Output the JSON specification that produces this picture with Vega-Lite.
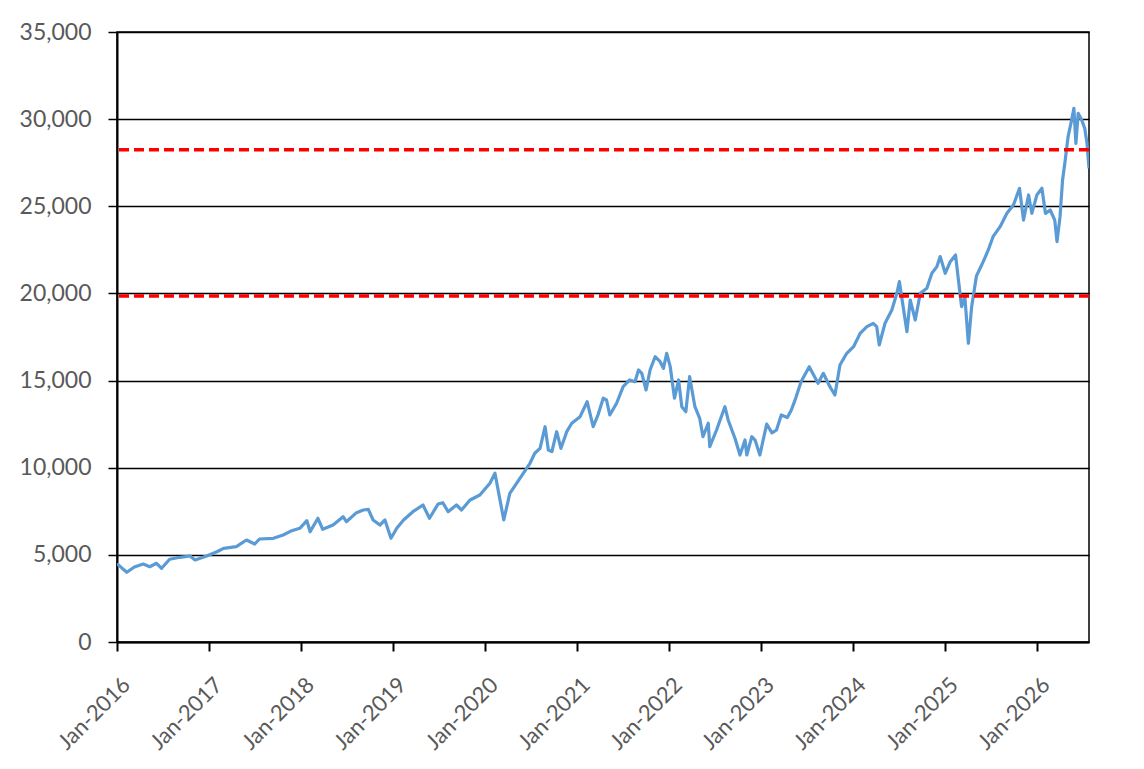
{
  "$schema": "https://vega.github.io/schema/vega-lite/v6.json",
  "width": 972,
  "height": 610,
  "autosize": {"type": "none"},
  "padding": {"left": 117, "top": 32, "right": 55, "bottom": 127},
  "background": "white",
  "config": {
    "view": {"stroke": "#000000", "strokeWidth": 1.5},
    "font": "Lato"
  },
  "layer": [
    {
      "data": {
        "values": [
          {"date": "2016-01-01", "value": 4500},
          {"date": "2016-01-20", "value": 4250},
          {"date": "2016-02-09", "value": 4000},
          {"date": "2016-03-10", "value": 4300},
          {"date": "2016-04-14", "value": 4475},
          {"date": "2016-05-10", "value": 4320},
          {"date": "2016-06-06", "value": 4516},
          {"date": "2016-06-26", "value": 4229},
          {"date": "2016-07-28", "value": 4745},
          {"date": "2016-09-07", "value": 4860},
          {"date": "2016-10-17", "value": 4935},
          {"date": "2016-11-06", "value": 4705},
          {"date": "2016-12-22", "value": 4935},
          {"date": "2017-02-01", "value": 5180},
          {"date": "2017-02-27", "value": 5376},
          {"date": "2017-04-19", "value": 5470},
          {"date": "2017-05-29", "value": 5853},
          {"date": "2017-07-01", "value": 5623},
          {"date": "2017-07-20", "value": 5910},
          {"date": "2017-09-13", "value": 5950},
          {"date": "2017-10-22", "value": 6140},
          {"date": "2017-11-25", "value": 6387},
          {"date": "2017-12-27", "value": 6524},
          {"date": "2018-01-24", "value": 6960},
          {"date": "2018-02-06", "value": 6330},
          {"date": "2018-03-09", "value": 7098},
          {"date": "2018-03-28", "value": 6467},
          {"date": "2018-05-08", "value": 6713},
          {"date": "2018-06-17", "value": 7190},
          {"date": "2018-06-30", "value": 6903},
          {"date": "2018-08-09", "value": 7420},
          {"date": "2018-09-05", "value": 7574},
          {"date": "2018-09-25", "value": 7614},
          {"date": "2018-10-14", "value": 7000},
          {"date": "2018-11-10", "value": 6713},
          {"date": "2018-11-30", "value": 7000},
          {"date": "2018-12-24", "value": 5950},
          {"date": "2019-01-16", "value": 6524},
          {"date": "2019-02-12", "value": 7000},
          {"date": "2019-03-21", "value": 7477},
          {"date": "2019-04-30", "value": 7861},
          {"date": "2019-05-26", "value": 7098},
          {"date": "2019-06-29", "value": 7918},
          {"date": "2019-07-18", "value": 7993},
          {"date": "2019-08-08", "value": 7477},
          {"date": "2019-09-10", "value": 7861},
          {"date": "2019-09-30", "value": 7574},
          {"date": "2019-11-03", "value": 8148},
          {"date": "2019-12-12", "value": 8435},
          {"date": "2020-01-21", "value": 9106},
          {"date": "2020-02-10", "value": 9680},
          {"date": "2020-03-01", "value": 8148},
          {"date": "2020-03-16", "value": 7000},
          {"date": "2020-04-09", "value": 8530},
          {"date": "2020-05-19", "value": 9393},
          {"date": "2020-06-28", "value": 10254},
          {"date": "2020-07-17", "value": 10828},
          {"date": "2020-08-07", "value": 11114},
          {"date": "2020-08-27", "value": 12354},
          {"date": "2020-09-09", "value": 11017},
          {"date": "2020-09-23", "value": 10920},
          {"date": "2020-10-12", "value": 12067},
          {"date": "2020-10-29", "value": 11114},
          {"date": "2020-11-21", "value": 12067},
          {"date": "2020-12-11", "value": 12550},
          {"date": "2021-01-13", "value": 12928},
          {"date": "2021-02-10", "value": 13788},
          {"date": "2021-03-06", "value": 12354},
          {"date": "2021-03-25", "value": 13025},
          {"date": "2021-04-15", "value": 13985},
          {"date": "2021-04-28", "value": 13886},
          {"date": "2021-05-11", "value": 13025},
          {"date": "2021-06-07", "value": 13697},
          {"date": "2021-07-03", "value": 14650},
          {"date": "2021-07-29", "value": 15034},
          {"date": "2021-08-19", "value": 14936},
          {"date": "2021-09-02", "value": 15607},
          {"date": "2021-09-15", "value": 15416},
          {"date": "2021-10-02", "value": 14460},
          {"date": "2021-10-18", "value": 15607},
          {"date": "2021-11-07", "value": 16370},
          {"date": "2021-11-27", "value": 16083},
          {"date": "2021-12-10", "value": 15702},
          {"date": "2021-12-23", "value": 16565},
          {"date": "2022-01-06", "value": 15798},
          {"date": "2022-01-23", "value": 13985},
          {"date": "2022-02-08", "value": 15034},
          {"date": "2022-02-21", "value": 13500},
          {"date": "2022-03-09", "value": 13214},
          {"date": "2022-03-24", "value": 15223},
          {"date": "2022-04-14", "value": 13500},
          {"date": "2022-05-03", "value": 12835},
          {"date": "2022-05-16", "value": 11780},
          {"date": "2022-06-06", "value": 12550},
          {"date": "2022-06-12", "value": 11206},
          {"date": "2022-07-09", "value": 12164},
          {"date": "2022-08-11", "value": 13500},
          {"date": "2022-08-24", "value": 12740},
          {"date": "2022-09-20", "value": 11688},
          {"date": "2022-10-10", "value": 10730},
          {"date": "2022-10-30", "value": 11590},
          {"date": "2022-11-06", "value": 10730},
          {"date": "2022-11-26", "value": 11780},
          {"date": "2022-12-09", "value": 11590},
          {"date": "2022-12-28", "value": 10730},
          {"date": "2023-01-24", "value": 12500},
          {"date": "2023-02-14", "value": 12000},
          {"date": "2023-03-04", "value": 12164},
          {"date": "2023-03-23", "value": 13025},
          {"date": "2023-04-16", "value": 12880},
          {"date": "2023-05-02", "value": 13312},
          {"date": "2023-05-19", "value": 13980},
          {"date": "2023-06-10", "value": 14950},
          {"date": "2023-07-12", "value": 15798},
          {"date": "2023-08-16", "value": 14845},
          {"date": "2023-09-06", "value": 15416},
          {"date": "2023-10-02", "value": 14650},
          {"date": "2023-10-22", "value": 14173},
          {"date": "2023-11-11", "value": 15894},
          {"date": "2023-12-08", "value": 16565},
          {"date": "2024-01-04", "value": 16944},
          {"date": "2024-01-30", "value": 17709},
          {"date": "2024-02-26", "value": 18092},
          {"date": "2024-03-22", "value": 18287},
          {"date": "2024-04-05", "value": 18092},
          {"date": "2024-04-15", "value": 17042},
          {"date": "2024-05-08", "value": 18287},
          {"date": "2024-06-04", "value": 19050},
          {"date": "2024-06-24", "value": 20008},
          {"date": "2024-07-04", "value": 20674},
          {"date": "2024-07-19", "value": 19240},
          {"date": "2024-08-03", "value": 17805},
          {"date": "2024-08-16", "value": 19624},
          {"date": "2024-09-05", "value": 18476},
          {"date": "2024-09-25", "value": 20008},
          {"date": "2024-10-21", "value": 20296},
          {"date": "2024-11-10", "value": 21157},
          {"date": "2024-11-30", "value": 21540},
          {"date": "2024-12-13", "value": 22114},
          {"date": "2025-01-02", "value": 21157},
          {"date": "2025-01-22", "value": 21822},
          {"date": "2025-02-12", "value": 22207},
          {"date": "2025-02-25", "value": 20582},
          {"date": "2025-03-08", "value": 19240},
          {"date": "2025-03-21", "value": 19800},
          {"date": "2025-04-04", "value": 17140},
          {"date": "2025-04-17", "value": 19240},
          {"date": "2025-05-06", "value": 21000},
          {"date": "2025-06-02", "value": 21822},
          {"date": "2025-06-22", "value": 22493},
          {"date": "2025-07-11", "value": 23256},
          {"date": "2025-08-08", "value": 23830},
          {"date": "2025-09-04", "value": 24596},
          {"date": "2025-09-30", "value": 25075},
          {"date": "2025-10-24", "value": 26032},
          {"date": "2025-11-09", "value": 24210},
          {"date": "2025-11-29", "value": 25648},
          {"date": "2025-12-12", "value": 24596},
          {"date": "2026-01-01", "value": 25648},
          {"date": "2026-01-21", "value": 26032},
          {"date": "2026-02-04", "value": 24596},
          {"date": "2026-02-23", "value": 24786},
          {"date": "2026-03-13", "value": 24210},
          {"date": "2026-03-22", "value": 22970},
          {"date": "2026-04-03", "value": 24405},
          {"date": "2026-04-13", "value": 26510},
          {"date": "2026-04-22", "value": 27468},
          {"date": "2026-05-05", "value": 28995},
          {"date": "2026-05-19", "value": 29952},
          {"date": "2026-05-28", "value": 30623},
          {"date": "2026-06-05", "value": 28614},
          {"date": "2026-06-14", "value": 30336},
          {"date": "2026-06-28", "value": 29952},
          {"date": "2026-07-10", "value": 29476},
          {"date": "2026-07-19", "value": 28614},
          {"date": "2026-07-27", "value": 27181}
        ]
      },
      "mark": {"type": "line", "color": "#5B9BD5", "strokeWidth": 3.2, "strokeJoin": "round", "clip": true},
      "encoding": {
        "x": {
          "field": "date",
          "type": "temporal",
          "scale": {
            "type": "utc",
            "domain": [
              {"year": 2016, "month": 1, "date": 1, "utc": true},
              {"year": 2026, "month": 7, "date": 27, "utc": true}
            ]
          },
          "axis": {
            "title": null,
            "values": [
              {"year": 2016, "month": 1, "date": 1, "utc": true},
              {"year": 2017, "month": 1, "date": 1, "utc": true},
              {"year": 2018, "month": 1, "date": 1, "utc": true},
              {"year": 2019, "month": 1, "date": 1, "utc": true},
              {"year": 2020, "month": 1, "date": 1, "utc": true},
              {"year": 2021, "month": 1, "date": 1, "utc": true},
              {"year": 2022, "month": 1, "date": 1, "utc": true},
              {"year": 2023, "month": 1, "date": 1, "utc": true},
              {"year": 2024, "month": 1, "date": 1, "utc": true},
              {"year": 2025, "month": 1, "date": 1, "utc": true},
              {"year": 2026, "month": 1, "date": 1, "utc": true}
            ],
            "format": "%b-%Y",
            "labelAngle": -45,
            "labelAlign": "right",
            "labelBaseline": "top",
            "labelFontSize": 22,
            "labelColor": "#595959",
            "labelPadding": 23,
            "labelOffset": 2,
            "labelOverlap": false,
            "labelFlush": false,
            "grid": false,
            "domainColor": "#000000",
            "domainWidth": 2,
            "tickColor": "#000000",
            "tickWidth": 2,
            "tickSize": 9
          }
        },
        "y": {
          "field": "value",
          "type": "quantitative",
          "scale": {"domain": [0, 35000], "nice": false},
          "axis": {
            "title": null,
            "values": [0, 5000, 10000, 15000, 20000, 25000, 30000, 35000],
            "format": ",d",
            "labelFontSize": 23,
            "labelColor": "#595959",
            "labelPadding": 17,
            "grid": true,
            "gridColor": "#000000",
            "gridWidth": 1.5,
            "domainColor": "#000000",
            "domainWidth": 2,
            "tickColor": "#000000",
            "tickWidth": 1.5,
            "tickSize": 9
          }
        }
      }
    },
    {
      "data": {"values": [{"level": 28250}, {"level": 19850}]},
      "mark": {"type": "rule", "color": "#FF0000", "strokeWidth": 3.5, "strokeDash": [10, 5]},
      "encoding": {
        "y": {"field": "level", "type": "quantitative"}
      }
    }
  ]
}
